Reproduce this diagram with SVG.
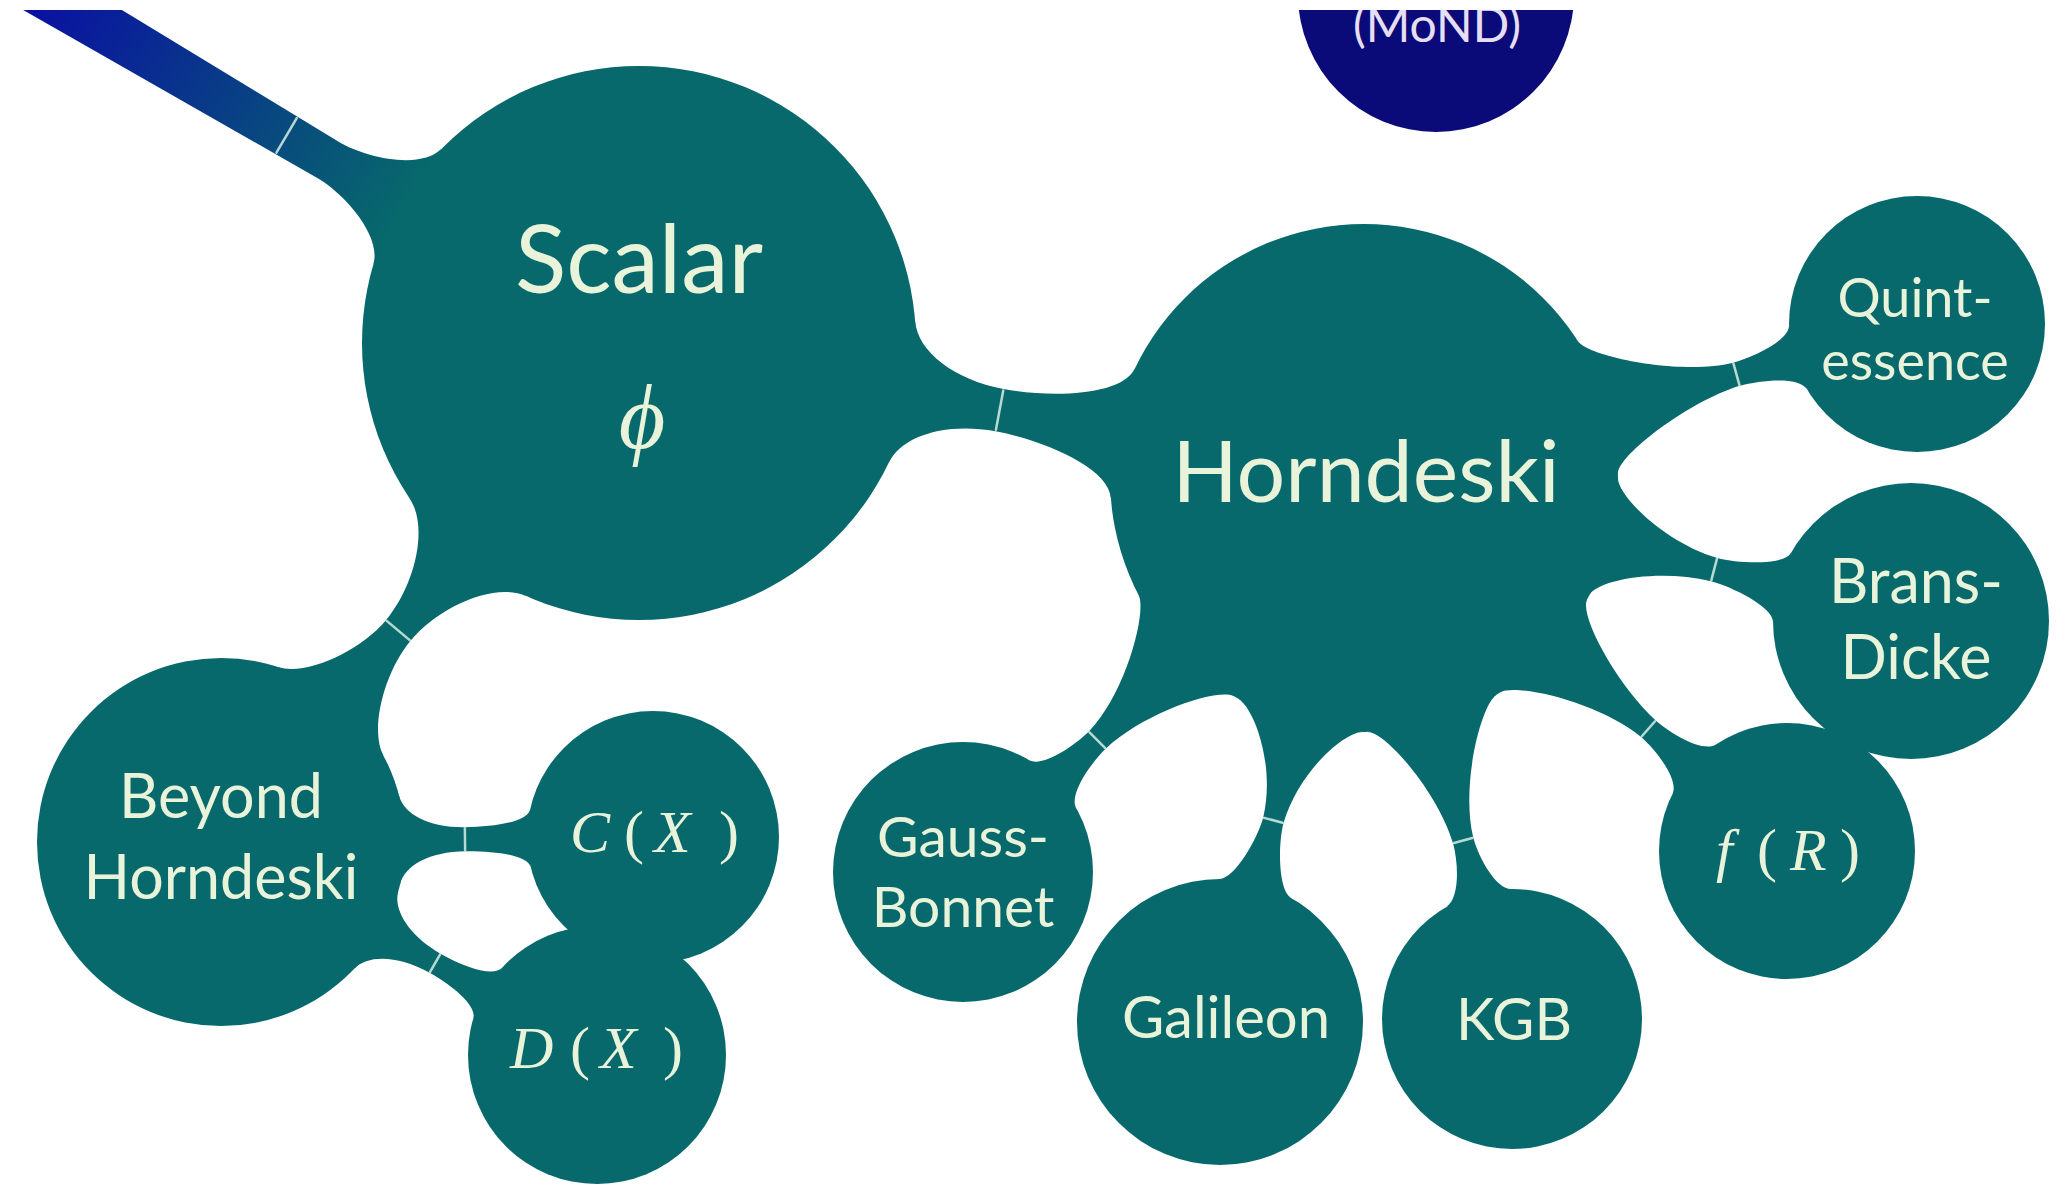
<svg xmlns="http://www.w3.org/2000/svg" width="2067" height="1188" viewBox="0 0 2067 1188">
<defs>
<style>
.node{fill:#07696b}
.bar{fill:#07696b}
.lbl{font-family:Lato,"Open Sans",sans-serif;fill:#e8f3da;text-anchor:middle}
.math{font-family:"Liberation Serif",serif;fill:#e8f3da}
.it{font-style:italic}
.tick{stroke:#d6eee6;stroke-width:2.5;stroke-linecap:round;fill:none;opacity:0.85}
</style>
<linearGradient id="gBlue" gradientUnits="userSpaceOnUse" x1="700" y1="0" x2="270" y2="0">
<stop offset="0" stop-color="#0a0fa3"/>
<stop offset="1" stop-color="#07696b"/>
</linearGradient>
<clipPath id="frame"><rect x="0" y="10" width="2067" height="1178"/></clipPath>
</defs>
<rect x="0" y="0" width="2067" height="1188" fill="#ffffff"/>
<g clip-path="url(#frame)">
<g id="connectors">
<g transform="translate(639,343) rotate(210.5)">
<path fill="url(#gBlue)" d="M268.8,67 C276.1,37.9 330,21 360,21 L800,27 L800,-27 L360,-21 C330,-21 276.1,-37.9 268.8,-67 Z"/>
<line class="tick" x1="409" y1="-20" x2="409" y2="20"/>
</g>
<g transform="translate(639,343) rotate(10.55)">
<path class="bar" d="M267.6,71.7 C275.4,42.7 316.8,21.5 366.8,21.5 C416.8,21.5 484.4,36.7 492.2,65.7 L492.2,-65.7 C484.4,-36.7 416.8,-21.5 366.8,-21.5 C316.8,-21.5 275.4,-42.7 267.6,-71.7 Z"/>
<line class="tick" x1="366.8" y1="-20" x2="366.8" y2="20"/>
</g>
<g transform="translate(639,343) rotate(129.95)">
<path class="bar" d="M266.3,76.3 C275.9,42.7 330,16 375,16 C415,16 469.1,41.1 480.3,68.9 L480.3,-68.9 C469.1,-41.1 415,-16 375,-16 C330,-16 275.9,-42.7 266.3,-76.3 Z"/>
<line class="tick" x1="375" y1="-15" x2="375" y2="15"/>
</g>
<g transform="translate(221,842) rotate(-0.66)">
<path class="bar" d="M178.5,44.5 C183.3,25.1 209,12 244,12 C274,12 306.5,16.7 309.2,28.4 L309.2,-28.4 C306.5,-16.7 274,-12 244,-12 C209,-12 183.3,-25.1 178.5,-44.5 Z"/>
<line class="tick" x1="244" y1="-11" x2="244" y2="11"/>
</g>
<g transform="translate(221,842) rotate(29.53)">
<path class="bar" d="M178.5,44.5 C183.3,25.1 211,11 246,11 C276,11 303.7,17.3 306.4,29 L306.4,-29 C303.7,-17.3 276,-11 246,-11 C211,-11 183.3,-25.1 178.5,-44.5 Z"/>
<line class="tick" x1="246" y1="-10" x2="246" y2="10"/>
</g>
<g transform="translate(1364,478) rotate(-15.56)">
<path class="bar" d="M245.8,64 C250.3,46.6 332.6,13.5 386.6,12 C408.6,12 446.5,18.6 450.4,33.1 L450.4,-33.1 C446.5,-18.6 408.6,-12 386.6,-12 C332.6,-13.5 248.2,-57.1 242.9,-74.3 Z"/>
<line class="tick" x1="386.6" y1="-11" x2="386.6" y2="11"/>
</g>
<g transform="translate(1364,478) rotate(14.65)">
<path class="bar" d="M247.6,56.7 C251.6,39.2 307.9,13.5 361.9,12 C383.9,12 428.2,21.2 432.1,35.7 L432.1,-35.7 C428.2,-21.2 383.9,-12 361.9,-12 C307.9,-13.5 250.3,-46.6 245.8,-64 Z"/>
<line class="tick" x1="361.9" y1="-11" x2="361.9" y2="11"/>
</g>
<g transform="translate(1364,478) rotate(41.4)">
<path class="bar" d="M244,70.7 C249,53.4 325.2,12.5 379.2,11 C401.2,11 436.5,18.6 440.4,33.1 L440.4,-33.1 C436.5,-18.6 401.2,-11 379.2,-11 C325.2,-12.5 251.6,-39.2 247.6,-56.7 Z"/>
<line class="tick" x1="379.2" y1="-10" x2="379.2" y2="10"/>
</g>
<g transform="translate(1364,478) rotate(74.7)">
<path class="bar" d="M245.9,63.6 C250.4,46.2 321.8,12 375.8,10.5 C397.8,10.5 431.4,19.1 435.3,33.6 L435.3,-33.6 C431.4,-19.1 397.8,-10.5 375.8,-10.5 C321.8,-12 249,-53.4 244,-70.7 Z"/>
<line class="tick" x1="375.8" y1="-9.5" x2="375.8" y2="9.5"/>
</g>
<g transform="translate(1364,478) rotate(104.83)">
<path class="bar" d="M245.5,65.1 C250.1,47.7 300.1,12 354.1,10.5 C376.1,10.5 420.7,22.5 424.6,37 L424.6,-37 C420.7,-22.5 376.1,-10.5 354.1,-10.5 C300.1,-12 250.4,-46.2 245.9,-63.6 Z"/>
<line class="tick" x1="354.1" y1="-9.5" x2="354.1" y2="9.5"/>
</g>
<g transform="translate(1364,478) rotate(135.5)">
<path class="bar" d="M242.9,74.3 C248.2,57.1 320,13.5 374,12 C396,12 432.7,19.1 436.6,33.6 L436.6,-33.6 C432.7,-19.1 396,-12 374,-12 C320,-13.5 250.1,-47.7 245.5,-65.1 Z"/>
<line class="tick" x1="374" y1="-11" x2="374" y2="11"/>
</g>
</g>
<g id="node-mond">
<circle cx="1436" cy="-6" r="138" fill="#0a0b78"/>
<text class="lbl" x="1437" y="42" font-size="48" style="fill:#e6def2">(MoND)</text>
</g>
<g id="node-scalar">
<circle class="node" cx="639" cy="343" r="277"/>
<text class="lbl" x="639" y="293" font-size="95">Scalar</text>
<text class="math it" x="642" y="448" font-size="90" text-anchor="middle">ϕ</text>
</g>
<g id="node-horndeski">
<circle class="node" cx="1364" cy="478" r="254"/>
<text class="lbl" x="1366" y="502" font-size="86">Horndeski</text>
</g>
<g id="node-beyond">
<circle class="node" cx="221" cy="842" r="184"/>
<text class="lbl" x="221" y="818" font-size="61">Beyond</text>
<text class="lbl" x="221" y="899" font-size="61">Horndeski</text>
</g>
<g id="node-cx">
<circle class="node" cx="653" cy="837" r="126"/>
<text class="math" y="852" font-size="60"><tspan class="it" x="570">C</tspan><tspan x="624">(</tspan><tspan class="it" x="654">X</tspan><tspan x="719">)</tspan></text>
</g>
<g id="node-dx">
<circle class="node" cx="597" cy="1055" r="129"/>
<text class="math" y="1068" font-size="60"><tspan class="it" x="510">D</tspan><tspan x="570">(</tspan><tspan class="it" x="600">X</tspan><tspan x="663">)</tspan></text>
</g>
<g id="node-quintessence">
<circle class="node" cx="1917" cy="324" r="128"/>
<text class="lbl" x="1915" y="317" font-size="54">Quint-</text>
<text class="lbl" x="1915" y="380" font-size="54">essence</text>
</g>
<g id="node-bransdicke">
<circle class="node" cx="1911" cy="621" r="138"/>
<text class="lbl" x="1916" y="603" font-size="61">Brans-</text>
<text class="lbl" x="1916" y="679" font-size="61">Dicke</text>
</g>
<g id="node-fr">
<circle class="node" cx="1787" cy="851" r="128"/>
<text class="math" y="870" font-size="60"><tspan class="it" x="1716">f</tspan><tspan x="1757">(</tspan><tspan class="it" x="1790">R</tspan><tspan x="1840">)</tspan></text>
</g>
<g id="node-kgb">
<circle class="node" cx="1512" cy="1019" r="130"/>
<text class="lbl" x="1514" y="1040" font-size="58">KGB</text>
</g>
<g id="node-galileon">
<circle class="node" cx="1220" cy="1022" r="143"/>
<text class="lbl" x="1226" y="1038" font-size="58">Galileon</text>
</g>
<g id="node-gaussbonnet">
<circle class="node" cx="963" cy="872" r="130"/>
<text class="lbl" x="963" y="857" font-size="57">Gauss-</text>
<text class="lbl" x="963" y="927" font-size="57">Bonnet</text>
</g>
</g>
</svg>
